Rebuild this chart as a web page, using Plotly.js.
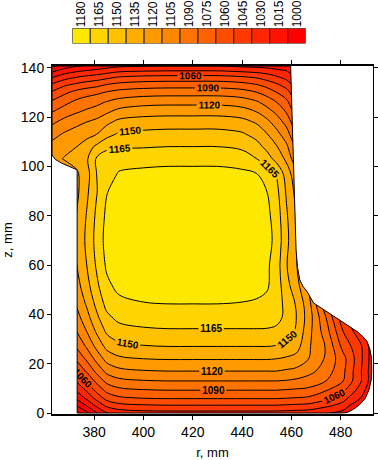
<!DOCTYPE html>
<html><head><meta charset="utf-8">
<script src="https://cdn.plot.ly/plotly-3.0.1.min.js"></script>
<style>html,body{margin:0;padding:0;background:#fff;}#chart{width:378px;height:460px;}</style>
</head><body><div id="chart"></div>
<script>
// grid of radial positions r (mm) and heights z (mm)
const rVals = [363, 368, 373, 377, 381, 385, 390, 400, 410, 420, 430, 440, 446, 450, 454, 458, 462, 467, 474, 481, 488, 494];
const zVals = [0, 3, 6, 9, 13, 17, 22, 27, 33, 39, 45, 52, 60, 70, 80, 90, 97, 103, 108, 113, 118, 122, 126, 130, 133, 136, 139, 141];
// temperature, one row per z value
const temperature = [
 [942, 962, 982, 997, 1014, 1029, 1036, 1039, 1040, 1040, 1040, 1040, 1040, 1040, 1040, 1039, 1038, 1037, 1032, 1024, 1005, 990],
 [961, 981, 1001, 1016, 1033, 1048, 1055, 1058, 1059, 1059, 1059, 1059, 1059, 1059, 1059, 1058, 1057, 1056, 1048, 1040, 1012, 995],
 [978, 998, 1018, 1033, 1050, 1065, 1072, 1075, 1076, 1076, 1076, 1076, 1076, 1076, 1076, 1075, 1074, 1072, 1064, 1050, 1030, 1005],
 [991, 1011, 1031, 1046, 1063, 1078, 1085, 1088, 1089, 1089, 1089, 1089, 1089, 1089, 1089, 1088, 1087, 1086, 1075, 1062, 1038, 1010],
 [1007, 1027, 1047, 1062, 1079, 1094, 1101, 1104, 1105, 1105, 1105, 1105, 1105, 1105, 1105, 1104, 1102, 1098, 1090, 1075, 1047, 1015],
 [1022, 1042, 1062, 1077, 1094, 1109, 1116, 1119, 1120, 1120, 1120, 1120, 1120, 1120, 1120, 1118, 1116, 1110, 1098, 1078, 1047, 1015],
 [1038, 1058, 1078, 1093, 1110, 1125, 1132, 1135, 1136, 1136, 1136, 1136, 1136, 1136, 1135, 1133, 1130, 1120, 1103, 1080, 1049, 1016],
 [1052, 1072, 1092, 1107, 1124, 1139, 1146, 1149, 1150, 1150, 1150, 1150, 1150, 1150, 1149, 1146, 1141, 1122, 1104, 1070, 1048, 1015],
 [1065, 1085, 1105, 1120, 1137, 1152, 1159, 1162, 1163, 1163, 1163, 1163, 1163, 1163, 1162, 1157, 1148, 1125, 1097, 1060, 1035, 1005],
 [1075, 1095, 1115, 1130, 1147, 1162, 1169, 1172, 1173, 1173, 1173, 1173, 1173, 1172, 1169, 1162, 1150, 1128, 1090, 1048, 1020, 995],
 [1083, 1103, 1123, 1138, 1155, 1170, 1177, 1180, 1181, 1181, 1181, 1180, 1179, 1177, 1172, 1160, 1148, 1125, 1075, 1020, 1000, 985],
 [1090, 1110, 1130, 1145, 1162, 1177, 1184, 1187, 1188, 1188, 1188, 1186, 1184, 1182, 1173, 1155, 1140, 1118, 1065, 1035, 1005, 985],
 [1095, 1115, 1135, 1150, 1167, 1182, 1189, 1192, 1193, 1193, 1193, 1191, 1188, 1183, 1172, 1151, 1136, 1115, 1080, 1050, 1020, 995],
 [1098, 1118, 1138, 1153, 1170, 1185, 1192, 1195, 1196, 1196, 1196, 1194, 1191, 1186, 1175, 1154, 1136, 1115, 1080, 1050, 1020, 995],
 [1096, 1116, 1136, 1151, 1168, 1183, 1190, 1193, 1194, 1194, 1194, 1192, 1189, 1184, 1173, 1152, 1134, 1113, 1078, 1048, 1018, 993],
 [1092, 1112, 1132, 1147, 1164, 1179, 1186, 1189, 1190, 1190, 1190, 1188, 1185, 1180, 1169, 1148, 1130, 1110, 1075, 1045, 1015, 990],
 [1110, 1124, 1133, 1144, 1165, 1174, 1181, 1184, 1185, 1185, 1185, 1183, 1180, 1175, 1164, 1143, 1125, 1105, 1080, 1050, 1020, 990],
 [1130, 1136, 1140, 1148, 1167, 1174, 1175, 1174, 1175, 1175, 1175, 1173, 1165, 1157, 1145, 1132, 1109, 1100, 1077, 1052, 1027, 1007],
 [1125, 1131, 1135, 1143, 1153, 1161, 1163, 1164, 1165, 1165, 1165, 1162, 1155, 1146, 1136, 1123, 1101, 1093, 1068, 1043, 1018, 998],
 [1115, 1122, 1127, 1130, 1135, 1145, 1152, 1154, 1155, 1155, 1155, 1152, 1145, 1136, 1125, 1112, 1090, 1082, 1057, 1032, 1007, 987],
 [1102, 1110, 1116, 1120, 1124, 1131, 1139, 1142, 1143, 1143, 1143, 1140, 1133, 1124, 1113, 1100, 1078, 1070, 1045, 1020, 995, 975],
 [1090, 1098, 1104, 1108, 1112, 1118, 1125, 1129, 1130, 1130, 1130, 1127, 1120, 1112, 1102, 1089, 1068, 1060, 1035, 1010, 985, 965],
 [1078, 1086, 1094, 1098, 1101, 1106, 1111, 1115, 1116, 1116, 1116, 1113, 1107, 1099, 1090, 1079, 1059, 1050, 1025, 1000, 975, 955],
 [1062, 1072, 1080, 1084, 1087, 1091, 1095, 1098, 1099, 1099, 1099, 1096, 1090, 1084, 1075, 1066, 1048, 1038, 1013, 988, 963, 943],
 [1048, 1058, 1064, 1068, 1071, 1076, 1080, 1083, 1084, 1084, 1084, 1081, 1076, 1070, 1063, 1054, 1038, 1027, 1002, 977, 952, 932],
 [1030, 1040, 1046, 1050, 1053, 1057, 1062, 1065, 1066, 1066, 1066, 1063, 1059, 1054, 1048, 1041, 1028, 1016, 991, 966, 941, 921],
 [1010, 1020, 1026, 1029, 1032, 1036, 1040, 1042, 1043, 1043, 1043, 1040, 1038, 1036, 1032, 1029, 1020, 1006, 981, 956, 931, 911],
 [995, 1005, 1012, 1015, 1018, 1021, 1025, 1027, 1028, 1028, 1028, 1025, 1024, 1023, 1021, 1019, 1015, 998, 973, 948, 923, 903]
];
// legend (colour key) labels, left to right
const legendLabels = ['1180', '1165', '1150', '1135', '1120', '1105', '1090', '1075', '1060', '1045', '1030', '1015', '1000'];
// band colours from below 1000 (index 0) to above 1180 (index 13)
const bandColors = ['#FF0000', '#FF0000', '#FF1300', '#FF2700', '#FF3A00', '#FF4D00', '#FF6100', '#FF7400', '#FF8700', '#FF9B00', '#FFAE00', '#FFC100', '#FFD500', '#FFE800'];
// outline of the section (mm), clockwise from bottom left
const boundaryR = [373.1, 373.1, 366.8, 364.3, 363.3, 362.9, 362.9, 459.7, 460.3, 460.9, 461.5, 461.9, 462.5, 463.4, 464.6, 466.5, 469, 486.7, 489, 490.7, 491.8, 492.4, 492.6, 492.4, 491.5, 490, 487.8, 485.3, 482.6, 480, 373.1];
const boundaryZ = [0, 98.6, 101.3, 102.8, 104, 105, 140.7, 140.7, 120, 100, 80, 66, 59, 54, 51.5, 49, 44.6, 33, 31, 29, 26, 23, 18, 13.5, 9.5, 6, 3.5, 1.6, 0.2, 0, 0];

const FONT = 'Liberation Sans, Arial, sans-serif';
const xRange = [362.9, 493.1];
const yRange = [-0.4, 140.7];

const nb = bandColors.length - 1;
const colorscale = bandColors.map((c, k) => [k / nb, c]);

function lineTrace(start, end, size, labels) {
  return {
    type: 'contour', x: rVals, y: zVals, z: temperature,
    autocontour: false, showscale: false, hoverinfo: 'skip',
    contours: {start: start, end: end, size: size, coloring: 'none', showlines: true,
      showlabels: labels, labelfont: {family: FONT, size: 10, color: '#000', weight: 'bold'}},
    line: {color: '#000', width: 1, smoothing: 1}
  };
}

const fillTrace = {
  type: 'contour', x: rVals, y: zVals, z: temperature,
  autocontour: false, showscale: false, hoverinfo: 'skip',
  colorscale: colorscale,
  contours: {start: 1000, end: 1180, size: 15, coloring: 'fill', showlines: false},
  line: {width: 0, smoothing: 1}
};

// white mask outside the section: outer frame + section outline in reverse
const pad = [xRange[0] - 20, xRange[1] + 20, yRange[0] - 20, yRange[1] + 20];
const maskX = [pad[0], pad[0], pad[1], pad[1], pad[0]].concat(boundaryR.slice().reverse()).concat([pad[0]]);
const maskY = [pad[2], pad[3], pad[3], pad[2], pad[2]].concat(boundaryZ.slice().reverse()).concat([pad[2]]);
const maskTrace = {type: 'scatter', mode: 'lines', x: maskX, y: maskY, fill: 'toself',
  fillcolor: '#FFFFFF', line: {width: 0, color: 'rgba(0,0,0,0)'}, hoverinfo: 'skip', showlegend: false};
const outlineTrace = {type: 'scatter', mode: 'lines', x: boundaryR, y: boundaryZ,
  line: {color: '#000', width: 1}, hoverinfo: 'skip', showlegend: false};

const keyTrace = {
  type: 'bar', x: legendLabels, y: legendLabels.map(() => 1), xaxis: 'x2', yaxis: 'y2',
  marker: {color: legendLabels.map((l, i) => bandColors[nb - i]), line: {color: '#222', width: 1}},
  hoverinfo: 'skip', showlegend: false
};

// unlabelled levels: 1000,1030 / 1015..1135 step 30 / 1180
// labelled levels: 1060, 1090, 1120, 1150, 1165 (levels past the data maximum are empty;
// they only make Plotly place labels more densely)
const data = [
  fillTrace,
  lineTrace(1015, 1135, 30, false),
  lineTrace(1000, 1030, 30, false),
  lineTrace(1180, 1190, 15, false),
  lineTrace(1090, 2890, 60, true),
  lineTrace(1060, 5560, 150, true),
  lineTrace(1120, 3820, 90, true),
  lineTrace(1165, 2515, 45, true),
  maskTrace, outlineTrace, keyTrace
];

const layout = {
  width: 378, height: 460,
  margin: {l: 52, r: 5, t: 0, b: 46},
  paper_bgcolor: '#fff', plot_bgcolor: '#fff',
  showlegend: false, bargap: 0,
  font: {family: FONT, size: 13, color: '#000'},
  xaxis: {range: xRange, domain: [0, 1], anchor: 'y', tickvals: [380, 400, 420, 440, 460, 480],
    ticks: 'outside', ticklen: 4, tickcolor: '#000', showline: true, linecolor: '#000', linewidth: 2,
    mirror: 'ticks', showgrid: false, zeroline: false, tickfont: {size: 14},
    title: {text: 'r, mm', font: {size: 13}, standoff: 9}},
  yaxis: {range: yRange, domain: [0, 0.8406], anchor: 'x', tickvals: [0, 20, 40, 60, 80, 100, 120, 140],
    ticks: 'outside', ticklen: 4, tickcolor: '#000', showline: true, linecolor: '#000', linewidth: 1,
    mirror: 'ticks', showgrid: false, zeroline: false, tickfont: {size: 14},
    title: {text: 'z, mm', font: {size: 13}, standoff: 6}},
  xaxis2: {domain: [0.0632, 0.7903], anchor: 'y2', side: 'top', type: 'category', tickangle: -90,
    ticks: '', showline: false, showgrid: false, zeroline: false, tickfont: {size: 12}, fixedrange: true},
  yaxis2: {domain: [0.8949, 0.9316], anchor: 'x2', range: [0, 1], visible: false, fixedrange: true}
};

Plotly.newPlot('chart', data, layout, {staticPlot: true, displayModeBar: false});
</script>
</body></html>
